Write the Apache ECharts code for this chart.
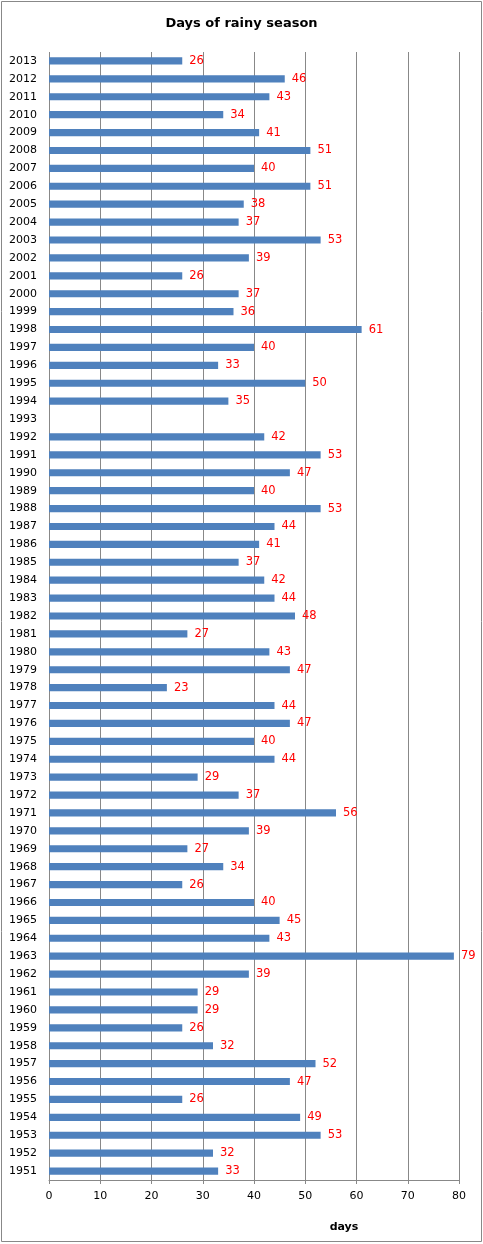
<!DOCTYPE html>
<html><head><meta charset="utf-8">
<script src="https://cdn.jsdelivr.net/npm/echarts@6/dist/echarts.min.js"></script>
<style>html,body{margin:0;padding:0;background:#fff}#c{width:483px;height:1244px}</style>
</head><body><div id="c"></div>
<script>
const years = ['1951','1952','1953','1954','1955','1956','1957','1958','1959','1960','1961','1962','1963','1964','1965','1966','1967','1968','1969','1970','1971','1972','1973','1974','1975','1976','1977','1978','1979','1980','1981','1982','1983','1984','1985','1986','1987','1988','1989','1990','1991','1992','1993','1994','1995','1996','1997','1998','1999','2000','2001','2002','2003','2004','2005','2006','2007','2008','2009','2010','2011','2012','2013'];
const days = [33,32,53,49,26,47,52,32,26,29,29,39,79,43,45,40,26,34,27,39,56,37,29,44,40,47,44,23,47,43,27,48,44,42,37,41,44,53,40,47,53,42,null,35,50,33,40,61,36,37,26,39,53,37,38,51,40,51,41,34,43,46,26];
const xTicks = {min:0, max:80, interval:10};
const FONT = 'DejaVu Sans';
const chart = echarts.init(document.getElementById('c'), null, {renderer:'canvas'});
chart.setOption({
  animation:false,
  backgroundColor:'#fff',
  title:{text:'Days of rainy season', left:'center', top:12,
    textStyle:{fontFamily:FONT, fontSize:13, fontWeight:'bold', color:'#000'}},
  graphic:[{type:'rect', shape:{x:1.5,y:1.5,width:480,height:1240}, style:{fill:'none', stroke:'#888', lineWidth:1}}],
  grid:{left:49, right:24, top:52, bottom:64},
  xAxis:{type:'value', min:xTicks.min, max:xTicks.max, interval:xTicks.interval,
    name:'days', nameLocation:'middle', nameGap:42,
    nameTextStyle:{fontFamily:FONT, fontSize:11, fontWeight:'bold', color:'#000', padding:[0,0,0,180]},
    axisLine:{show:true, lineStyle:{color:'#888'}},
    axisTick:{show:true, length:4, lineStyle:{color:'#888'}},
    axisLabel:{fontFamily:FONT, fontSize:11, color:'#000', margin:11},
    splitLine:{show:true, lineStyle:{color:'#888', width:1}}},
  yAxis:{type:'category', data:years,
    axisLine:{show:false}, axisTick:{show:false},
    axisLabel:{fontFamily:FONT, fontSize:11, color:'#000', margin:12}},
  series:[{type:'bar', data:days, barWidth:'40%',
    itemStyle:{color:'#4f81bd'},
    label:{show:true, position:'right', distance:7, color:'#ff0000', fontFamily:FONT, fontSize:11.5}}]
});
</script></body></html>
